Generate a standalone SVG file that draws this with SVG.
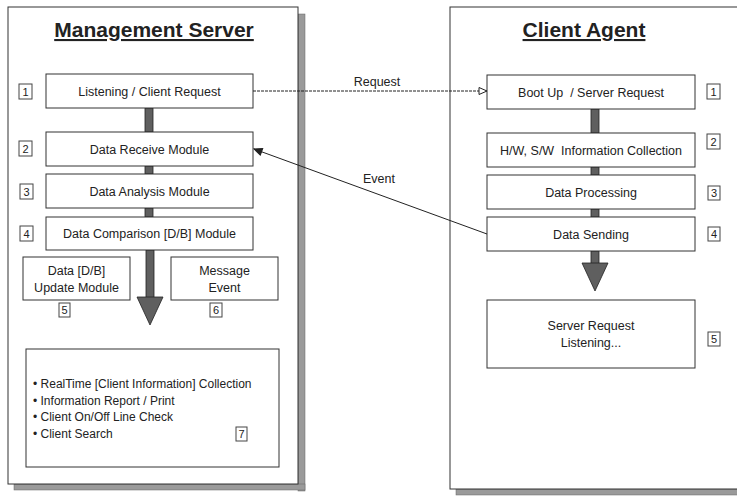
<svg xmlns="http://www.w3.org/2000/svg" width="737" height="496" viewBox="0 0 737 496">
<style>
  .panel { fill: #fff; stroke: #333; stroke-width: 1; }
  .shadow { fill: #9a9a9a; stroke: #666; stroke-width: 0.5; }
  .box { fill: #fff; stroke: #333; stroke-width: 1; }
  .num { fill: #fff; stroke: #444; stroke-width: 1; }
  .bar { fill: #5f5f5f; stroke: #222; stroke-width: 0.8; }
  text { font-family: "Liberation Sans", Arial, sans-serif; fill: #222; }
  .t { font-size: 12.5px; text-anchor: middle; }
  .n { font-size: 11px; text-anchor: middle; }
  .title { font-size: 21px; font-weight: bold; text-anchor: middle; text-decoration: underline; }
  .lbl { font-size: 12.5px; text-anchor: middle; }
  .list { font-size: 12px; }
  .conn { stroke: #222; stroke-width: 1; fill: none; }
</style>
<defs>
  <marker id="open" markerWidth="10" markerHeight="10" refX="9" refY="5" orient="auto" markerUnits="userSpaceOnUse">
    <path d="M1,1.5 L9,5 L1,8.5 Z" fill="#fff" stroke="#222" stroke-width="1"/>
  </marker>
  <marker id="filled" markerWidth="10" markerHeight="10" refX="9" refY="5" orient="auto" markerUnits="userSpaceOnUse">
    <path d="M1,1.5 L9,5 L1,8.5 Z" fill="#222" stroke="#222" stroke-width="1"/>
  </marker>
</defs>
<rect width="737" height="496" fill="#fff"/>

<!-- Management Server panel -->
<g id="management-server">
  <rect class="shadow" x="298" y="14" width="7" height="477"/>
  <rect class="shadow" x="14" y="484" width="291" height="6"/>
  <rect class="panel" x="8" y="7" width="290" height="477"/>
  <text class="title" x="154" y="37">Management Server</text>
</g>

<!-- Client Agent panel -->
<g id="client-agent">
  <rect class="shadow" x="456" y="489" width="290" height="6"/>
  <rect class="panel" x="450" y="7" width="300" height="482"/>
  <text class="title" x="584" y="37">Client Agent</text>
</g>

<!-- vertical flow bars and arrows -->
<g id="flow-bars">
  <rect class="bar" x="145" y="108" width="8" height="24"/>
  <rect class="bar" x="145" y="166" width="8" height="8"/>
  <rect class="bar" x="145" y="208" width="8" height="9"/>
  <rect class="bar" x="146" y="250" width="8" height="48"/>
  <path class="bar" d="M137,297 L163,297 L150,325 Z"/>
  <rect class="bar" x="591" y="109" width="8" height="24"/>
  <rect class="bar" x="591" y="167" width="8" height="8"/>
  <rect class="bar" x="591" y="209" width="8" height="8"/>
  <rect class="bar" x="591" y="251" width="8" height="13"/>
  <path class="bar" d="M582,263 L608,263 L595,291 Z"/>
</g>

<!-- Server nodes -->
<g id="s1">
  <rect class="box" x="46" y="74" width="207" height="34"/>
  <text class="t" x="149.5" y="95.5">Listening / Client Request</text>
  <rect class="num" x="19" y="84" width="13" height="15"/>
  <text class="n" x="25.5" y="95.5">1</text>
</g>
<g id="s2">
  <rect class="box" x="46" y="132" width="207" height="34"/>
  <text class="t" x="149.5" y="153.5">Data Receive Module</text>
  <rect class="num" x="19" y="141" width="13" height="15"/>
  <text class="n" x="25.5" y="152.5">2</text>
</g>
<g id="s3">
  <rect class="box" x="46" y="174" width="207" height="34"/>
  <text class="t" x="149.5" y="195.5">Data Analysis Module</text>
  <rect class="num" x="20" y="184" width="13" height="15"/>
  <text class="n" x="26.5" y="195.5">3</text>
</g>
<g id="s4">
  <rect class="box" x="46" y="217" width="207" height="33"/>
  <text class="t" x="149.5" y="238">Data Comparison [D/B] Module</text>
  <rect class="num" x="20" y="226" width="13" height="15"/>
  <text class="n" x="26.5" y="237.5">4</text>
</g>
<g id="s5">
  <rect class="box" x="23" y="257" width="107" height="43"/>
  <text class="t" x="76.5" y="275">Data [D/B]</text>
  <text class="t" x="76.5" y="292">Update Module</text>
  <rect class="num" x="59" y="303" width="11" height="14"/>
  <text class="n" x="64.5" y="314">5</text>
</g>
<g id="s6">
  <rect class="box" x="171" y="257" width="107" height="43"/>
  <text class="t" x="224.5" y="275">Message</text>
  <text class="t" x="224.5" y="292">Event</text>
  <rect class="num" x="210" y="303" width="12" height="14"/>
  <text class="n" x="216" y="314">6</text>
</g>
<g id="s7">
  <rect class="box" x="26" y="349" width="253" height="118"/>
  <text class="list" x="33" y="388">• RealTime [Client Information] Collection</text>
  <text class="list" x="33" y="404.5">• Information Report / Print</text>
  <text class="list" x="33" y="421">• Client On/Off Line Check</text>
  <text class="list" x="33" y="437.5">• Client Search</text>
  <rect class="num" x="236" y="427" width="11" height="14"/>
  <text class="n" x="241.5" y="438">7</text>
</g>

<!-- Client nodes -->
<g id="c1">
  <rect class="box" x="487" y="75" width="208" height="34"/>
  <text class="t" x="591" y="96.5" xml:space="preserve">Boot Up  / Server Request</text>
  <rect class="num" x="707" y="84" width="13" height="15"/>
  <text class="n" x="713.5" y="95.5">1</text>
</g>
<g id="c2">
  <rect class="box" x="487" y="133" width="208" height="34"/>
  <text class="t" x="591" y="154.5" xml:space="preserve">H/W, S/W  Information Collection</text>
  <rect class="num" x="707" y="134" width="13" height="15"/>
  <text class="n" x="713.5" y="145.5">2</text>
</g>
<g id="c3">
  <rect class="box" x="487" y="175" width="208" height="34"/>
  <text class="t" x="591" y="196.5">Data Processing</text>
  <rect class="num" x="708" y="186" width="12" height="14"/>
  <text class="n" x="714" y="197">3</text>
</g>
<g id="c4">
  <rect class="box" x="487" y="217" width="208" height="34"/>
  <text class="t" x="591" y="238.5">Data Sending</text>
  <rect class="num" x="708" y="227" width="12" height="14"/>
  <text class="n" x="714" y="238">4</text>
</g>
<g id="c5">
  <rect class="box" x="487" y="300" width="208" height="68"/>
  <text class="t" x="591" y="330">Server Request</text>
  <text class="t" x="591" y="347">Listening...</text>
  <rect class="num" x="708" y="332" width="12" height="14"/>
  <text class="n" x="714" y="343">5</text>
</g>

<!-- connectors -->
<g id="connectors">
  <line class="conn" x1="253" y1="91" x2="487" y2="91" stroke-dasharray="3,1" marker-end="url(#open)"/>
  <text class="lbl" x="377" y="86">Request</text>
  <line class="conn" x1="487" y1="234" x2="254" y2="149" marker-end="url(#filled)"/>
  <text class="lbl" x="379" y="183">Event</text>
</g>
</svg>
